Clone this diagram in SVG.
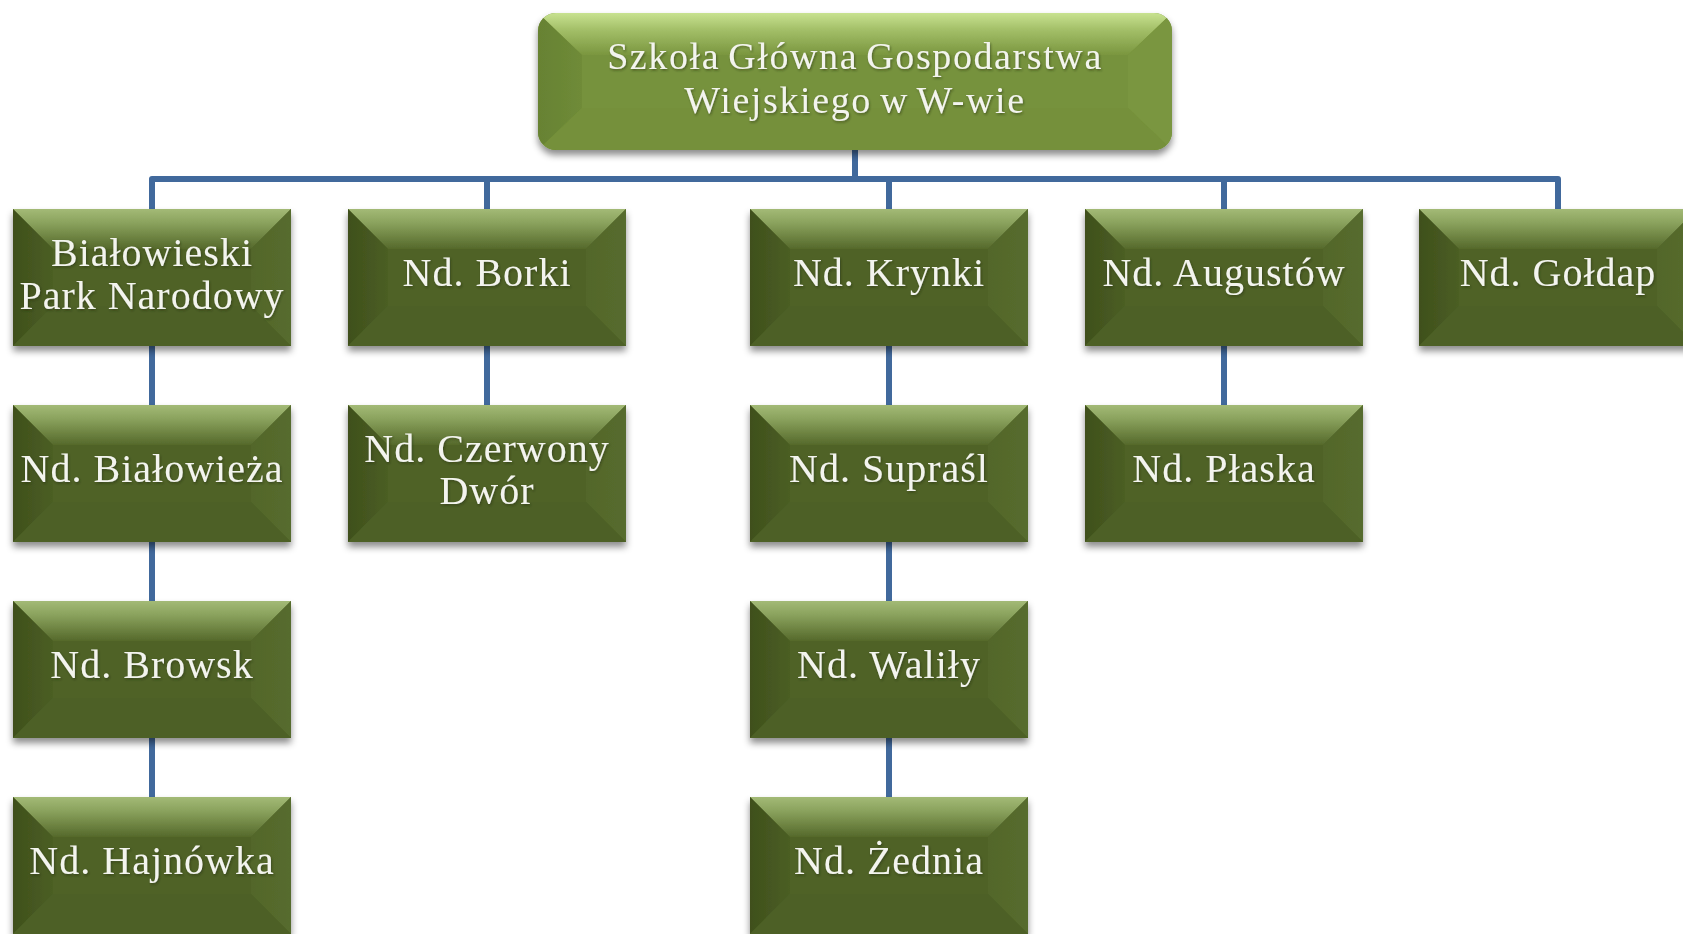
<svg xmlns="http://www.w3.org/2000/svg" xmlns:xlink="http://www.w3.org/1999/xlink" width="1683" height="934" viewBox="0 0 1683 934">
<style>
.lbl{font-family:"Liberation Serif","Times New Roman",serif;font-size:40px;letter-spacing:1px;fill:#F3F4EE;text-anchor:middle;}
.root{font-size:38px;letter-spacing:1.6px;}
.conn{fill:none;stroke:#41699C;stroke-width:6;stroke-linejoin:round;}
</style>
<defs>
<filter id="sh" x="-10%" y="-10%" width="120%" height="130%">
<feDropShadow dx="0" dy="5" stdDeviation="3.5" flood-color="#000" flood-opacity="0.45"/>
</filter>
<filter id="tsh" x="-5%" y="-20%" width="110%" height="140%">
<feDropShadow dx="1" dy="1.5" stdDeviation="1" flood-color="#1e260c" flood-opacity="0.5"/>
</filter>
<linearGradient id="gTop" x1="0" y1="0" x2="0" y2="1">
<stop offset="0" stop-color="#A3BA76"/>
<stop offset="0.35" stop-color="#8AA25D"/>
<stop offset="1" stop-color="#55692B"/>
</linearGradient>
<linearGradient id="gLeft" x1="0" y1="0" x2="1" y2="0">
<stop offset="0" stop-color="#3F501C"/>
<stop offset="1" stop-color="#4B5E24"/>
</linearGradient>
<linearGradient id="gRight" x1="0" y1="0" x2="1" y2="0">
<stop offset="0" stop-color="#52662A"/>
<stop offset="1" stop-color="#576C2E"/>
</linearGradient>
<linearGradient id="rTop" x1="0" y1="0" x2="0" y2="1">
<stop offset="0" stop-color="#C8E290"/>
<stop offset="0.4" stop-color="#A3BF68"/>
<stop offset="1" stop-color="#7A963F"/>
</linearGradient>
<linearGradient id="rLeft" x1="0" y1="0" x2="1" y2="0">
<stop offset="0" stop-color="#678233"/>
<stop offset="1" stop-color="#6F8B38"/>
</linearGradient>
<clipPath id="rootClip"><rect x="0" y="0" width="634" height="137" rx="18" ry="18"/></clipPath>
<g id="box">
<rect x="0" y="0" width="278" height="137" fill="#4F6228"/>
<polygon points="0,0 278,0 238,40 40,40" fill="url(#gTop)"/>
<polygon points="0,0 40,40 40,97 0,137" fill="url(#gLeft)"/>
<polygon points="278,0 238,40 238,97 278,137" fill="url(#gRight)"/>
<polygon points="0,137 40,97 238,97 278,137" fill="#4D6027"/>
<rect x="40" y="40" width="198" height="57" fill="#4F6228"/>
</g>
</defs>
<rect width="1683" height="934" fill="#FFFFFF"/>

<g id="connectors">
<path class="conn" d="M855,150 V179"/>
<path class="conn" d="M152,209 V179 H1558 V209"/>
<path class="conn" d="M487,179 V209"/>
<path class="conn" d="M889,179 V209"/>
<path class="conn" d="M1224,179 V209"/>
<path class="conn" d="M152,346 V405"/>
<path class="conn" d="M152,542 V601"/>
<path class="conn" d="M152,738 V797"/>
<path class="conn" d="M487,346 V405"/>
<path class="conn" d="M889,346 V405"/>
<path class="conn" d="M889,542 V601"/>
<path class="conn" d="M889,738 V797"/>
<path class="conn" d="M1224,346 V405"/>
</g>

<g id="n-root" transform="translate(538,13)">
<g filter="url(#sh)">
<g clip-path="url(#rootClip)">
<rect x="0" y="0" width="634" height="137" fill="#76923C"/>
<polygon points="0,0 634,0 590,42 44,42" fill="url(#rTop)"/>
<polygon points="0,0 44,42 44,95 0,137" fill="url(#rLeft)"/>
<polygon points="634,0 590,42 590,95 634,137" fill="#7A963F"/>
<polygon points="0,137 44,95 590,95 634,137" fill="#74903A"/>
<rect x="44" y="42" width="546" height="53" fill="#76923C"/>
</g>
</g>
<text class="lbl root" filter="url(#tsh)" x="317" y="56" word-spacing="-3">Szkoła Główna Gospodarstwa</text>
<text class="lbl root" filter="url(#tsh)" x="317" y="100" word-spacing="-3">Wiejskiego w W-wie</text>
</g>

<g id="n-bpn" transform="translate(13,209)">
<use href="#box" filter="url(#sh)"/>
<text class="lbl" filter="url(#tsh)" x="139" y="57">Białowieski</text>
<text class="lbl" filter="url(#tsh)" x="139" y="100">Park Narodowy</text>
</g>
<g id="n-bialowieza" transform="translate(13,405)">
<use href="#box" filter="url(#sh)"/>
<text class="lbl" filter="url(#tsh)" x="139" y="77">Nd. Białowieża</text>
</g>
<g id="n-browsk" transform="translate(13,601)">
<use href="#box" filter="url(#sh)"/>
<text class="lbl" filter="url(#tsh)" x="139" y="77">Nd. Browsk</text>
</g>
<g id="n-hajnowka" transform="translate(13,797)">
<use href="#box" filter="url(#sh)"/>
<text class="lbl" filter="url(#tsh)" x="139" y="77">Nd. Hajnówka</text>
</g>

<g id="n-borki" transform="translate(348,209)">
<use href="#box" filter="url(#sh)"/>
<text class="lbl" filter="url(#tsh)" x="139" y="77">Nd. Borki</text>
</g>
<g id="n-czerwony" transform="translate(348,405)">
<use href="#box" filter="url(#sh)"/>
<text class="lbl" filter="url(#tsh)" x="139" y="57">Nd. Czerwony</text>
<text class="lbl" filter="url(#tsh)" x="139" y="99">Dwór</text>
</g>

<g id="n-krynki" transform="translate(750,209)">
<use href="#box" filter="url(#sh)"/>
<text class="lbl" filter="url(#tsh)" x="139" y="77">Nd. Krynki</text>
</g>
<g id="n-suprasl" transform="translate(750,405)">
<use href="#box" filter="url(#sh)"/>
<text class="lbl" filter="url(#tsh)" x="139" y="77">Nd. Supraśl</text>
</g>
<g id="n-walily" transform="translate(750,601)">
<use href="#box" filter="url(#sh)"/>
<text class="lbl" filter="url(#tsh)" x="139" y="77">Nd. Waliły</text>
</g>
<g id="n-zednia" transform="translate(750,797)">
<use href="#box" filter="url(#sh)"/>
<text class="lbl" filter="url(#tsh)" x="139" y="77">Nd. Żednia</text>
</g>

<g id="n-augustow" transform="translate(1085,209)">
<use href="#box" filter="url(#sh)"/>
<text class="lbl" filter="url(#tsh)" x="139" y="77">Nd. Augustów</text>
</g>
<g id="n-plaska" transform="translate(1085,405)">
<use href="#box" filter="url(#sh)"/>
<text class="lbl" filter="url(#tsh)" x="139" y="77">Nd. Płaska</text>
</g>

<g id="n-goldap" transform="translate(1419,209)">
<use href="#box" filter="url(#sh)"/>
<text class="lbl" filter="url(#tsh)" x="139" y="77">Nd. Gołdap</text>
</g>
</svg>
